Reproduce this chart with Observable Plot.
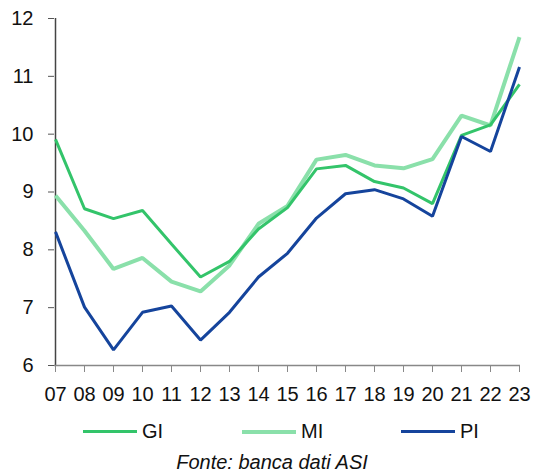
<!DOCTYPE html>
<html>
<head>
<meta charset="utf-8">
<script src="https://cdn.jsdelivr.net/npm/d3@7"></script>
<script src="https://cdn.jsdelivr.net/npm/@observablehq/plot@0.6"></script>
<style>
  html, body { margin: 0; padding: 0; background: #fff; }
  body { width: 536px; height: 473px; overflow: hidden; font-family: "Liberation Sans", Arial, sans-serif; }
  #chart svg { display: block; }
  #legend { position: relative; height: 36px; }
  .item { position: absolute; top: 10px; display: flex; align-items: center; font-size: 20px; color: #111; }
  .sw { width: 54px; height: 3px; margin-right: 5px; }
  #caption { text-align: center; font-style: italic; font-size: 20px; color: #111; padding-left: 8px; padding-top: 5px; }
</style>
</head>
<body>
<div id="chart"></div>
<div id="legend"></div>
<div id="caption">Fonte: banca dati ASI</div>
<script>
const years = ["07","08","09","10","11","12","13","14","15","16","17","18","19","20","21","22","23"];
const seriesNames = ["GI", "MI", "PI"];
const seriesColors = ["#33c46a", "#8ae0aa", "#15449c"];
const GI = [9.91, 8.71, 8.54, 8.68, 8.10, 7.53, 7.80, 8.36, 8.73, 9.40, 9.46, 9.18, 9.07, 8.80, 9.98, 10.16, 10.86];
const MI = [8.94, 8.33, 7.67, 7.86, 7.45, 7.28, 7.73, 8.45, 8.76, 9.56, 9.64, 9.46, 9.41, 9.57, 10.32, 10.15, 11.68];
const PI = [8.31, 7.01, 6.27, 6.92, 7.03, 6.44, 6.92, 7.53, 7.94, 8.55, 8.97, 9.04, 8.88, 8.58, 9.96, 9.70, 11.16];
const yTicks = [6, 7, 8, 9, 10, 11, 12];

const valuesBySeries = {GI, MI, PI};
const rows = [];
for (const s of ["MI", "GI", "PI"]) {
  valuesBySeries[s].forEach((v, i) => rows.push({series: s, year: years[i], value: v}));
}
const widths = {GI: 3, MI: 4, PI: 3};
const font = "'Liberation Sans', Arial, sans-serif";

const plot = Plot.plot({
  width: 536,
  height: 410,
  marginLeft: 54,
  marginRight: 16,
  marginTop: 18,
  marginBottom: 45,
  style: {fontFamily: font, fontSize: "20px", color: "#111", background: "#fff", overflow: "visible"},
  x: {type: "point", domain: years, padding: 0},
  y: {domain: [6, 12]},
  color: {domain: seriesNames, range: seriesColors},
  marks: [
    Plot.axisY({ticks: yTicks, tickFormat: d => String(d), tickSize: 6, tickPadding: 15, label: null, stroke: "#555", fill: "#111", fontSize: 20, fontFamily: font}),
    Plot.axisX({tickSize: 7, tickPadding: 14, label: null, stroke: "#888", fill: "#111", fontSize: 20, fontFamily: font}),
    Plot.ruleX([years[0]], {stroke: "#444", strokeWidth: 1.5}),
    Plot.ruleY([6], {stroke: "#888", strokeWidth: 1.5}),
    ...["MI", "GI", "PI"].map(s => Plot.line(rows.filter(r => r.series === s), {
      x: "year", y: "value", stroke: "series", strokeWidth: widths[s], strokeLinejoin: "miter", strokeLinecap: "butt"
    }))
  ]
});
document.getElementById("chart").appendChild(plot);

const legend = document.getElementById("legend");
const lefts = [83, 242, 401];
seriesNames.forEach((s, i) => {
  const it = document.createElement("div");
  it.className = "item";
  it.style.left = lefts[i] + "px";
  const sw = document.createElement("span");
  sw.className = "sw";
  sw.style.background = seriesColors[i];
  sw.style.height = widths[s] + "px";
  const t = document.createElement("span");
  t.textContent = s;
  it.appendChild(sw);
  it.appendChild(t);
  legend.appendChild(it);
});
</script>
</body>
</html>
